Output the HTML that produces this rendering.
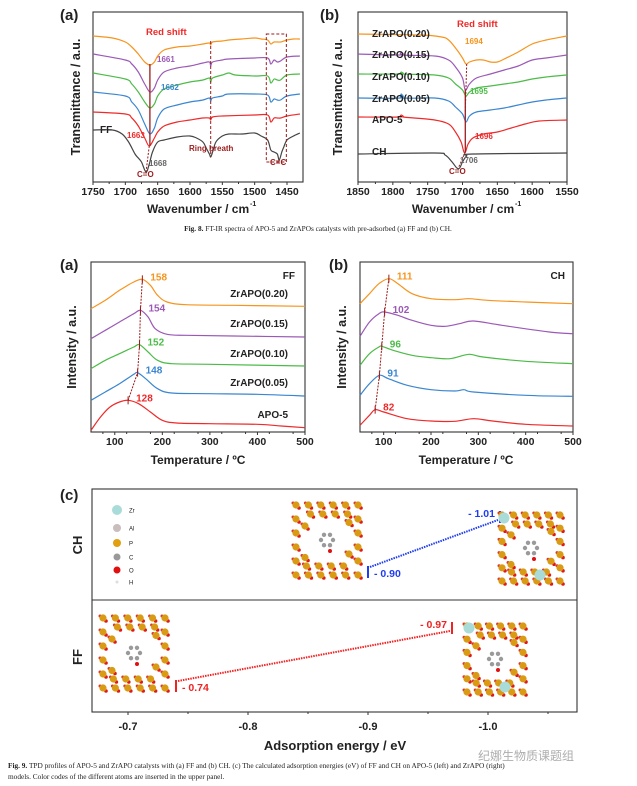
<!DOCTYPE html>
<html><head><meta charset="utf-8"><style>
html,body{margin:0;padding:0;background:#fff}
svg{display:block}
text{font-family:"Liberation Sans","Noto Sans CJK SC",sans-serif}
.cap{font-family:"Liberation Serif","Noto Serif CJK SC",serif;font-size:7.3px;fill:#222}
</style></head><body>
<svg id="fig" width="637" height="786" viewBox="0 0 637 786" xmlns="http://www.w3.org/2000/svg">
<g id="root"></g>
</svg>
<script>
// ---------- DATA ----------
const irA_wn_ticks = [1750,1700,1650,1600,1550,1500,1450];
const irA_orange = [[1750,24],[1720,26],[1700,30],[1690,35],[1680,42],[1670,50],[1662,53],[1655,50],[1650,44],[1640,38],[1620,35],[1600,34],[1580,32],[1570,31],[1568,33],[1565,30],[1550,29],[1540,28],[1520,27],[1500,26],[1490,27],[1480,28],[1475,32],[1470,30],[1460,30],[1455,29],[1450,28],[1440,27],[1430,27]];
const irA_purple = [[1750,42],[1700,48],[1690,52],[1680,60],[1670,72],[1662,80],[1655,76],[1650,68],[1640,60],[1620,56],[1600,54],[1580,51],[1570,50],[1568,54],[1565,50],[1550,48],[1540,47],[1500,46],[1480,46],[1475,52],[1470,48],[1465,50],[1460,49],[1450,45],[1430,44]];
const irA_green = [[1750,61],[1700,67],[1690,72],[1680,80],[1670,90],[1662,96],[1655,92],[1650,84],[1640,77],[1620,73],[1600,70],[1580,68],[1570,66],[1568,70],[1565,66],[1550,63],[1540,61],[1530,63],[1500,64],[1480,64],[1475,71],[1470,67],[1465,68],[1460,68],[1450,63],[1430,62]];
const irA_blue = [[1750,80],[1700,84],[1690,90],[1680,98],[1670,112],[1662,122],[1655,116],[1650,106],[1640,97],[1620,93],[1600,90],[1580,88],[1570,86],[1568,89],[1565,86],[1550,84],[1540,82],[1500,82],[1480,83],[1475,90],[1470,87],[1465,88],[1460,88],[1450,84],[1430,82]];
const irA_red = [[1750,100],[1700,102],[1690,106],[1680,114],[1670,126],[1663,134],[1655,126],[1650,120],[1640,114],[1620,110],[1600,108],[1580,106],[1570,106],[1568,108],[1565,105],[1550,104],[1500,103],[1480,103],[1475,110],[1470,106],[1465,106],[1460,106],[1450,104],[1430,102]];
const irA_black = [[1750,118],[1720,118],[1705,122],[1695,130],[1685,142],[1680,146],[1675,150],[1668,160],[1663,152],[1658,140],[1650,130],[1640,128],[1620,125],[1600,124],[1590,126],[1580,130],[1575,136],[1570,142],[1568,145],[1565,140],[1560,130],[1550,124],[1540,122],[1520,122],[1500,121],[1490,124],[1480,128],[1475,138],[1470,140],[1465,142],[1462,148],[1458,140],[1455,135],[1450,128],[1440,124],[1430,121]];
const irB_wn_ticks = [1850,1800,1750,1700,1650,1600,1550];
const irB_orange = [[1850,22],[1760,23],[1730,25],[1720,28],[1710,36],[1700,46],[1695,52],[1690,50],[1680,48],[1670,48],[1660,50],[1650,50],[1640,47],[1620,40],[1600,32],[1580,28],[1550,24]];
const irB_purple = [[1850,42],[1790,43],[1788,40],[1785,43],[1740,44],[1720,48],[1710,55],[1700,66],[1696,78],[1690,72],[1680,66],[1660,62],[1640,58],[1620,54],[1600,48],[1580,46],[1550,43]];
const irB_green = [[1850,62],[1790,62],[1788,60],[1785,62],[1740,63],[1720,66],[1710,72],[1700,78],[1695,84],[1690,80],[1680,76],[1660,74],[1640,72],[1620,70],[1600,67],[1580,65],[1550,63]];
const irB_blue = [[1850,86],[1790,86],[1788,82],[1785,86],[1740,86],[1720,89],[1710,95],[1700,102],[1695,110],[1690,104],[1680,100],[1660,98],[1640,96],[1620,93],[1600,90],[1580,88],[1550,86]];
const irB_red = [[1850,105],[1790,105],[1788,103],[1785,105],[1740,108],[1720,112],[1710,120],[1702,130],[1697,141],[1692,132],[1685,126],[1670,122],[1650,120],[1630,116],[1610,112],[1590,109],[1550,108]];
const irB_black = [[1850,142],[1740,141],[1725,143],[1715,150],[1708,156],[1704,156],[1700,150],[1694,144],[1685,142],[1550,141]];
const tpd_ticks = [100,200,300,400,500];
const tpdA_orange = [[50,175],[80,150],[110,120],[140,95],[158,87],[175,105],[190,135],[210,155],[250,163],[350,165],[500,168]];
const tpdA_purple = [[50,265],[80,240],[110,215],[140,190],[154,180],[170,200],[185,235],[210,252],[250,255],[350,257],[500,260]];
const tpdA_green = [[50,355],[80,330],[110,310],[140,290],[152,283],[170,305],[190,330],[220,340],[300,342],[500,347]];
const tpdA_blue = [[50,450],[80,425],[110,400],[140,372],[148,367],[165,385],[190,415],[220,428],[300,430],[400,432],[500,437]];
const tpdA_red = [[50,540],[70,500],[90,470],[110,455],[128,450],[150,460],[175,485],[200,510],[230,518],[300,520],[400,522],[450,527],[500,532]];
const tpdA_peaks = [128,148,152,154,158];
const tpdB_orange = [[50,160],[70,130],[90,100],[111,85],[130,100],[160,130],[200,145],[250,148],[280,145],[320,150],[400,155],[500,160]];
const tpdB_purple = [[50,258],[70,215],[90,190],[102,185],[130,195],[160,210],[200,225],[230,228],[260,220],[290,212],[350,225],[450,245],[500,250]];
const tpdB_green = [[50,345],[70,310],[90,290],[96,288],[120,300],[160,315],[200,322],[240,325],[280,312],[310,320],[400,333],[500,340]];
const tpdB_blue = [[50,435],[70,400],[91,375],[110,385],[150,405],[200,418],[250,422],[270,418],[290,425],[400,435],[500,438]];
const tpdB_red = [[50,525],[70,495],[82,478],[100,485],[150,505],[200,512],[250,513],[290,505],[330,512],[400,522],[500,527]];
const tpdB_peaks = [82,91,96,102,111];
const energyTicks = [-0.7,-0.8,-0.9,-1.0];
const chEnergies = [-0.90,-1.01];
const ffEnergies = [-0.74,-0.97];

// ---------- HELPERS ----------
const NS='http://www.w3.org/2000/svg';
const root=document.getElementById('root');
function el(tag,attrs,parent,txt){const e=document.createElementNS(NS,tag);for(const k in attrs)e.setAttribute(k,attrs[k]);if(txt!==undefined)e.textContent=txt;(parent||root).appendChild(e);return e;}
function smooth(pts){let d='M'+pts[0][0].toFixed(1)+','+pts[0][1].toFixed(1);for(let i=0;i<pts.length-1;i++){const p0=pts[i-1]||pts[i],p1=pts[i],p2=pts[i+1],p3=pts[i+2]||p2;const c1=[p1[0]+(p2[0]-p0[0])/6,p1[1]+(p2[1]-p0[1])/6],c2=[p2[0]-(p3[0]-p1[0])/6,p2[1]-(p3[1]-p1[1])/6];d+='C'+c1[0].toFixed(1)+','+c1[1].toFixed(1)+' '+c2[0].toFixed(1)+','+c2[1].toFixed(1)+' '+p2[0].toFixed(1)+','+p2[1].toFixed(1);}return d;}
function lin(d0,d1,r0,r1){return v=>r0+(v-d0)*(r1-r0)/(d1-d0);}
const C={orange:'#f7941d',purple:'#9b59b6',green:'#4cbb47',blue:'#3a86d0',red:'#ee2a2a',black:'#444',dred:'#9b1b1b'};
function txt(x,y,s,opt,name){const t=el('text',Object.assign({x:x,y:y,'font-size':10,'font-weight':'bold',fill:'#222'},opt||{}),root,s);return t;}
function frame(x0,y0,x1,y1,name){const r=el('rect',{x:x0,y:y0,width:x1-x0,height:y1-y0,fill:'none',stroke:'#333','stroke-width':1.1});}
function series(pts,xs,ys,color,name){const p=el('path',{d:smooth(pts.map(q=>[xs(q[0]),ys(q[1])])),fill:'none',stroke:color,'stroke-width':1.2});return p;}
function xticks(ticks,xs,yb,fmt,fs,minor){ticks.forEach(t=>{el('line',{x1:xs(t),x2:xs(t),y1:yb,y2:yb+3,stroke:'#333','stroke-width':1});txt(xs(t),yb+13,fmt(t),{'text-anchor':'middle','font-size':fs||10.5},'x-tick-label');});
 if(minor){for(let i=0;i<ticks.length-1;i++){const m=(ticks[i]+ticks[i+1])/2;el('line',{x1:xs(m),x2:xs(m),y1:yb,y2:yb+2,stroke:'#333','stroke-width':1});}}}
function ylabel(x,y,s,name,fs){txt(x,y,s,{'text-anchor':'middle','font-size':fs||12.5,transform:'rotate(-90 '+x+' '+y+')'},name);}

// ---------- FIG 8a ----------
{const xs=lin(1750,1450,93,287),ys=lin(0,170,12,182);
frame(93,12,303,182,'ir-ff-plot-frame');
series(irA_orange,xs,ys,C.orange,'ir-ff-zrapo-020');series(irA_purple,xs,ys,C.purple,'ir-ff-zrapo-015');series(irA_green,xs,ys,C.green,'ir-ff-zrapo-010');series(irA_blue,xs,ys,C.blue,'ir-ff-zrapo-005');series(irA_red,xs,ys,C.red,'ir-ff-apo5');series(irA_black,xs,ys,C.black,'ir-ff-ff');
el('line',{x1:xs(1662),x2:xs(1662),y1:ys(52),y2:ys(134),stroke:C.dred,'stroke-width':1.3});
el('line',{x1:xs(1663),x2:xs(1668),y1:ys(134),y2:ys(160),stroke:C.dred,'stroke-width':1,'stroke-dasharray':'2,1.5'});
el('line',{x1:xs(1568),x2:xs(1568),y1:ys(29),y2:ys(145),stroke:C.dred,'stroke-width':1,'stroke-dasharray':'3,2'});
el('rect',{x:xs(1482),y:ys(22),width:xs(1451)-xs(1482),height:ys(150)-ys(22),fill:'none',stroke:C.dred,'stroke-width':1,'stroke-dasharray':'3,2'});
txt(146,35,'Red shift',{fill:C.red,'font-size':9.5},'red-shift-label');
txt(157,62,'1661',{fill:C.purple,'font-size':8},'peak-1661');
txt(161,90,'1662',{fill:C.blue,'font-size':8},'peak-1662');
txt(127,138,'1663',{fill:C.red,'font-size':8},'peak-1663');
txt(149,166,'1668',{fill:'#666','font-size':8},'peak-1668');
txt(137,177,'C=O',{fill:C.dred,'font-size':8},'co-label');
txt(100,133,'FF',{fill:'#222','font-size':10},'ff-label');
txt(189,151,'Ring breath',{fill:C.dred,'font-size':8},'ring-breath-label');
txt(270,165,'C=C',{fill:C.dred,'font-size':8},'cc-label');
xticks(irA_wn_ticks,xs,182,t=>t,10.5,true);
txt(198,213,'Wavenumber / cm',{'text-anchor':'middle','font-size':12},'x-axis-title-8a');txt(250,206,'-1',{'font-size':7},'sup');
ylabel(80,97,'Transmittance / a.u.','y-axis-title-8a');
txt(60,20,'(a)',{'font-size':15},'panel-label-8a');}

// ---------- FIG 8b ----------
{const xs=lin(1850,1550,358,567),ys=lin(0,170,12,182);
frame(358,12,567,182,'ir-ch-plot-frame');
series(irB_orange,xs,ys,C.orange,'ir-ch-zrapo-020');series(irB_purple,xs,ys,C.purple,'ir-ch-zrapo-015');series(irB_green,xs,ys,C.green,'ir-ch-zrapo-010');series(irB_blue,xs,ys,C.blue,'ir-ch-zrapo-005');series(irB_red,xs,ys,C.red,'ir-ch-apo5');series(irB_black,xs,ys,C.black,'ir-ch-ch');
el('line',{x1:xs(1694),x2:xs(1696),y1:ys(52),y2:ys(100),stroke:C.dred,'stroke-width':1,'stroke-dasharray':'2,1.5'});
el('line',{x1:xs(1696),x2:xs(1696),y1:ys(78),y2:ys(140),stroke:C.dred,'stroke-width':1.3});
el('line',{x1:xs(1696),x2:xs(1706),y1:ys(140),y2:ys(156),stroke:C.dred,'stroke-width':1,'stroke-dasharray':'2,1.5'});
const lbl=[['ZrAPO(0.20)',37],['ZrAPO(0.15)',58],['ZrAPO(0.10)',80],['ZrAPO(0.05)',102],['APO-5',123],['CH',155]];
lbl.forEach(l=>txt(372,l[1],l[0],{'font-size':10},'sample-label'));
txt(457,27,'Red shift',{fill:C.red,'font-size':9.5},'red-shift-label-b');
txt(465,44,'1694',{fill:C.orange,'font-size':8},'peak-1694');
txt(470,94,'1695',{fill:C.green,'font-size':8},'peak-1695');
txt(475,139,'1696',{fill:C.red,'font-size':8},'peak-1696');
txt(460,163,'1706',{fill:'#666','font-size':8},'peak-1706');
txt(449,174,'C=O',{fill:C.dred,'font-size':8},'co-label-b');
xticks(irB_wn_ticks,xs,182,t=>t,10.5,true);
txt(463,213,'Wavenumber / cm',{'text-anchor':'middle','font-size':12},'x-axis-title-8b');txt(515,206,'-1',{'font-size':7},'sup');
ylabel(342,97,'Transmittance / a.u.','y-axis-title-8b');
txt(320,20,'(b)',{'font-size':15},'panel-label-8b');}

{const t=el('text',{x:318,y:231,'text-anchor':'middle',class:'cap'});
el('tspan',{'font-weight':'bold'},t,'Fig. 8.');el('tspan',{},t,' FT-IR spectra of APO-5 and ZrAPOs catalysts with pre-adsorbed (a) FF and (b) CH.');}

// ---------- FIG 9a/b ----------
function tpdPanel(x0,x1,sets,peaks,colors,names,pref){
 const xs=lin(50,500,x0,x1),ys=lin(35,545,262,432);
 frame(x0,262,x1,432,pref+'-plot-frame');
 const peakPts=[];
 sets.forEach((s,i)=>{series(s,xs,ys,colors[i],pref+'-'+names[i]);});
 const bottomUp=sets.slice().reverse();
 bottomUp.forEach((s,i)=>{const T=peaks[i];let best=s[0];s.forEach(p=>{if(Math.abs(p[0]-T)<Math.abs(best[0]-T))best=p;});peakPts.push([xs(T),ys(best[1])]);});
 for(let i=0;i<peakPts.length-1;i++)el('line',{x1:peakPts[i][0],y1:peakPts[i][1],x2:peakPts[i+1][0],y2:peakPts[i+1][1],stroke:C.dred,'stroke-width':1,'stroke-dasharray':'2,1.2'});
 const bc=colors.slice().reverse();
 peakPts.forEach((p,i)=>{el('line',{x1:p[0],x2:p[0],y1:p[1]-4,y2:p[1]+4,stroke:C.dred,'stroke-width':1});txt(p[0]+8,p[1]+1,String(peaks[i]),{fill:bc[i],'font-size':10},'peak-temp');});
 xticks(tpd_ticks,xs,432,t=>t,10.5,false);
 [75,125,175,225,275,325,375,425,475].forEach(m=>el('line',{x1:xs(m),x2:xs(m),y1:432,y2:434,stroke:'#333'}));
 return xs;}
const cols=[C.orange,C.purple,C.green,C.blue,C.red];
tpdPanel(91,305,[tpdA_orange,tpdA_purple,tpdA_green,tpdA_blue,tpdA_red],tpdA_peaks,cols,['zrapo-020','zrapo-015','zrapo-010','zrapo-005','apo5'],'tpd-ff');
[['ZrAPO(0.20)',297],['ZrAPO(0.15)',327],['ZrAPO(0.10)',357],['ZrAPO(0.05)',386],['APO-5',418]].forEach(l=>txt(288,l[1],l[0],{'font-size':10,'text-anchor':'end'},'sample-label'));
txt(295,279,'FF',{'font-size':10,'text-anchor':'end'},'ff-tag');
txt(198,464,'Temperature / ºC',{'text-anchor':'middle','font-size':12},'x-axis-title-9a');
ylabel(76,347,'Intensity / a.u.','y-axis-title-9a');
txt(60,270,'(a)',{'font-size':15},'panel-label-9a');
tpdPanel(360,573,[tpdB_orange,tpdB_purple,tpdB_green,tpdB_blue,tpdB_red],tpdB_peaks,cols,['zrapo-020','zrapo-015','zrapo-010','zrapo-005','apo5'],'tpd-ch');
txt(565,279,'CH',{'font-size':10,'text-anchor':'end'},'ch-tag');
txt(466,464,'Temperature / ºC',{'text-anchor':'middle','font-size':12},'x-axis-title-9b');
ylabel(346,347,'Intensity / a.u.','y-axis-title-9b');
txt(329,270,'(b)',{'font-size':15},'panel-label-9b');

// ---------- FIG 9c ----------
{const xs=lin(-0.7,-1.0,128,488);
frame(92,489,577,712,'energy-plot-frame');
el('line',{x1:92,x2:577,y1:600,y2:600,stroke:'#333','stroke-width':1.1});
energyTicks.forEach(t=>{el('line',{x1:xs(t),x2:xs(t),y1:712,y2:715,stroke:'#333'});txt(xs(t),730,t.toFixed(1),{'text-anchor':'middle','font-size':11},'x-tick-label');});
[-0.75,-0.85,-0.95,-1.05].forEach(m=>el('line',{x1:xs(m),x2:xs(m),y1:712,y2:714,stroke:'#333'}));
txt(335,750,'Adsorption energy / eV',{'text-anchor':'middle','font-size':13},'x-axis-title-9c');
ylabel(82,545,'CH','row-label-ch',13);ylabel(82,657,'FF','row-label-ff',13);
txt(60,500,'(c)',{'font-size':15},'panel-label-9c');
const chY=[572,517],ffY=[686,628];
function pair(E,Y,color,name){const p=[[xs(E[0]),Y[0]],[xs(E[1]),Y[1]]];
 const l=el('line',{x1:p[0][0]+2,y1:p[0][1]-5,x2:p[1][0]-2,y2:p[1][1]+3,stroke:color,'stroke-width':2,'stroke-dasharray':'1.5,1'});
 p.forEach((q,i)=>{const m=el('line',{x1:q[0],x2:q[0],y1:q[1]-6,y2:q[1]+6,stroke:color,'stroke-width':2});
  txt(i===0?q[0]+6:q[0]-5,q[1]+(i===0?5:0),'- '+Math.abs(E[i]).toFixed(2),{fill:color,'font-size':10.5,'text-anchor':i===0?'start':'end'},name+'-value');});}
pair(chEnergies,chY,'#1f3df0','ch-energy');pair(ffEnergies,ffY,'#f02222','ff-energy');
const atoms=[['Zr','#a9dcd8',5],['Al','#c9bdbd',4],['P','#e0a010',4],['C','#999',3.5],['O','#e01010',3.5],['H','#ddd',1.5]];
const ay=[510,528,543,557,570,582];
atoms.forEach((a,i)=>{const c=el('circle',{cx:117,cy:ay[i],r:a[2],fill:a[1]});txt(129,ay[i]+2.5,a[0],{'font-size':6,'font-weight':'normal'},'atom-legend-label');});
function framework(x0,y0,w,h,zr){const g=el('g',{});
 const P=[];const n=6;
 for(let i=0;i<n;i++){P.push([x0+w*i/(n-1),y0]);P.push([x0+w*i/(n-1),y0+h]);}
 for(let j=1;j<n-1;j++){P.push([x0,y0+h*j/(n-1)]);P.push([x0+w,y0+h*j/(n-1)]);}
 for(let i=1;i<n-1;i++){P.push([x0+w*i/(n-1)+2,y0+9]);P.push([x0+w*i/(n-1)-2,y0+h-9]);}
 P.push([x0+9,y0+h*0.3]);P.push([x0+w-9,y0+h*0.7]);P.push([x0+9,y0+h*0.75]);P.push([x0+w-9,y0+h*0.25]);
 P.forEach(p=>{el('circle',{cx:p[0]+3,cy:p[1]+3,r:1.8,fill:'#e01818'},g);el('circle',{cx:p[0]-3,cy:p[1]-2,r:1.5,fill:'#d33'},g);el('circle',{cx:p[0],cy:p[1],r:3.6,fill:'#d99a14'},g);});
 const cx=x0+w/2,cy=y0+h/2;for(let k=0;k<6;k++){const a=k*Math.PI/3;el('circle',{cx:cx+6*Math.cos(a),cy:cy+6*Math.sin(a),r:2.2,fill:'#9a9a9a'},g);}
 el('circle',{cx:cx+3,cy:cy+11,r:2,fill:'#e01010'},g);
 if(zr){zr.forEach(z=>el('circle',{cx:z[0],cy:z[1],r:5.5,fill:'#a9dcd8'},g));}}
framework(296,505,62,70,null);
framework(502,515,58,66,[[504,518],[540,575]]);
framework(103,618,62,70,null);
framework(467,626,56,66,[[469,628],[505,687]]);}

{const t1=el('text',{x:8,y:768,class:'cap'});
el('tspan',{'font-weight':'bold'},t1,'Fig. 9.');el('tspan',{},t1,' TPD profiles of APO-5 and ZrAPO catalysts with (a) FF and (b) CH. (c) The calculated adsorption energies (eV) of FF and CH on APO-5 (left) and ZrAPO (right)');
txt(8,779,'models. Color codes of the different atoms are inserted in the upper panel.',{class:'cap','font-weight':'normal','font-size':7.3},'fig9-caption-line2');
txt(478,760,'纪娜生物质课题组',{fill:'#999','font-size':12,'font-weight':'normal',opacity:0.8},'watermark');}
</script>
</body></html>
